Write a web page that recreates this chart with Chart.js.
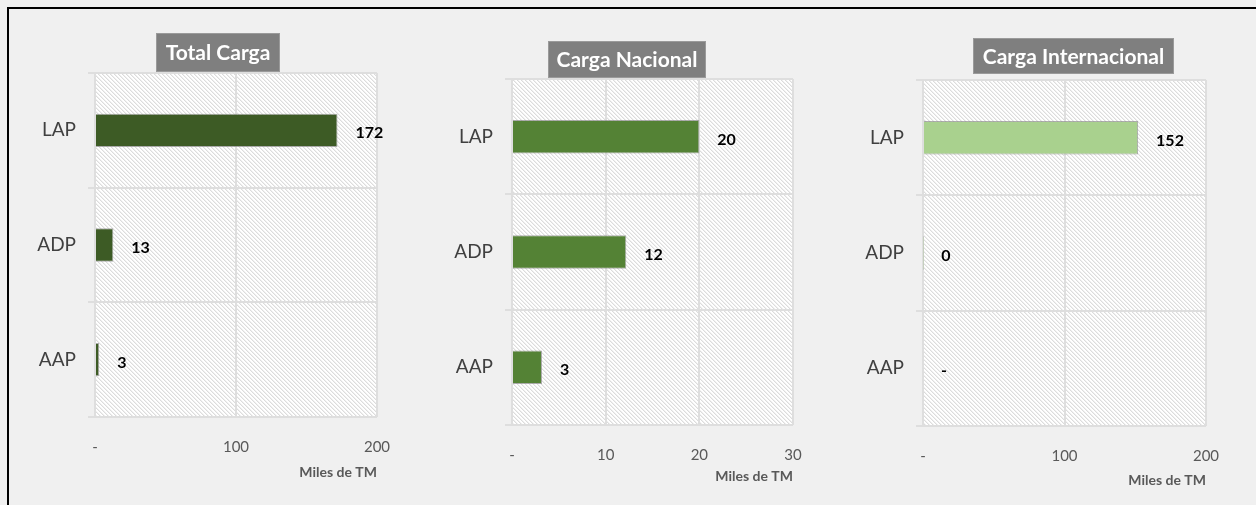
<!DOCTYPE html>
<html>
<head>
<meta charset="utf-8">
<script src="https://cdn.jsdelivr.net/npm/chart.js@4"></script>
<style>
  body { margin: 0; background: #f0f0f0; width: 1256px; height: 505px; overflow: hidden; position: relative; font-family: Lato, sans-serif; }
  .frame { position: absolute; left: 7px; top: 7px; width: 1300px; height: 600px; border-top: 2px solid #000; border-left: 2px solid #000; }
  .box { position: absolute; top: 0; height: 505px; }
</style>
</head>
<body>
<div class="frame"></div>
<div class="box" style="left:0;width:400px"><canvas id="c1"></canvas></div>
<div class="box" style="left:417px;width:399px"><canvas id="c2"></canvas></div>
<div class="box" style="left:828px;width:401px"><canvas id="c3"></canvas></div>
<script>
// datos (miles de TM)
const categories = ['LAP', 'ADP', 'AAP'];
const totalValues = [172, 13, 3];
const nacionalValues = [20, 12.2, 3.2];
const internacionalValues = [152, 0.2, 0];

const chartTitles = ['Total Carga', 'Carga Nacional', 'Carga Internacional'];
const axisTitle = 'Miles de TM';
const axisMax = [200, 30, 200];
const axisStep = [100, 10, 100];
const zeroTick = '-';

Chart.defaults.font.family = 'Lato, sans-serif';
Chart.defaults.animation = false;

// fondo rayado del area de trazado
function hatchPattern(ctx) {
  const n = 4;
  const shades = [220, 240, 255, 255];
  const c = document.createElement('canvas');
  c.width = n; c.height = n;
  const g = c.getContext('2d');
  const img = g.createImageData(n, n);
  for (let y = 0; y < n; y++) {
    for (let x = 0; x < n; x++) {
      const i = (y * n + x) * 4;
      const v = shades[(x - y + n) % n];
      img.data[i] = v; img.data[i + 1] = v; img.data[i + 2] = v; img.data[i + 3] = 255;
    }
  }
  g.putImageData(img, 0, 0);
  return ctx.createPattern(c, 'repeat');
}

const hatchBg = {
  id: 'hatchBg',
  beforeDraw(chart) {
    const { ctx, chartArea: a } = chart;
    ctx.save();
    ctx.fillStyle = hatchPattern(ctx);
    ctx.fillRect(a.left, a.top, a.right - a.left, a.bottom - a.top);
    ctx.restore();
  }
};

const titleBox = {
  id: 'titleBox',
  afterDraw(chart, args, o) {
    const ctx = chart.ctx;
    ctx.save();
    ctx.fillStyle = '#7f7f7f';
    ctx.fillRect(o.x, o.y, o.w, o.h);
    ctx.strokeStyle = '#9a9a9a';
    ctx.lineWidth = 1;
    ctx.strokeRect(o.x + 0.5, o.y + 0.5, o.w - 1, o.h - 1);
    ctx.fillStyle = '#ffffff';
    ctx.font = 'bold 21px Lato, sans-serif';
    ctx.textAlign = 'center';
    ctx.textBaseline = 'middle';
    ctx.fillText(o.text, o.x + o.w / 2, o.y + o.h / 2 + 1);
    ctx.restore();
  }
};

const valueLabels = {
  id: 'valueLabels',
  afterDatasetsDraw(chart) {
    const ctx = chart.ctx;
    const vals = chart.data.datasets[0].data;
    ctx.save();
    ctx.fillStyle = '#000';
    ctx.font = 'bold 16px Lato, sans-serif';
    ctx.textAlign = 'left';
    ctx.textBaseline = 'middle';
    chart.getDatasetMeta(0).data.forEach((bar, i) => {
      const v = vals[i];
      const txt = v === 0 ? '-' : String(Math.round(v));
      ctx.fillText(txt, bar.x + 18, bar.y + 3);
    });
    ctx.restore();
  }
};

function makeChart(id, idx, values, color, lay) {
  return new Chart(document.getElementById(id), {
    type: 'bar',
    data: {
      labels: categories,
      datasets: [{
        data: values,
        backgroundColor: color,
        borderColor: 'rgba(140,140,140,0.7)',
        borderWidth: 1,
        barPercentage: 0.29,
        categoryPercentage: 1
      }]
    },
    plugins: [hatchBg, titleBox, valueLabels],
    options: {
      indexAxis: 'y',
      responsive: true,
      maintainAspectRatio: false,
      layout: { padding: { left: 0, right: lay.padRight, top: lay.padTop, bottom: lay.padBottom } },
      plugins: {
        legend: { display: false },
        tooltip: { enabled: false },
        titleBox: { text: chartTitles[idx], x: lay.tx, y: lay.ty, w: lay.tw, h: lay.th }
      },
      scales: {
        x: {
          min: 0,
          max: axisMax[idx],
          ticks: {
            stepSize: axisStep[idx],
            color: '#595959',
            font: { size: 15 },
            padding: 21,
            callback: v => v === 0 ? zeroTick : v
          },
          grid: { color: '#dedede', lineWidth: 2, drawTicks: false },
          border: { display: false },
          title: {
            display: true,
            text: axisTitle,
            align: 'end',
            color: '#595959',
            font: { size: 14, weight: 'bold' },
            padding: 0
          },
          afterFit: s => { s.height = lay.xh; s.paddingLeft = 0; s.paddingRight = 0; }
        },
        y: {
          ticks: { color: '#404040', font: { size: 19 }, padding: 12 },
          grid: { color: '#dedede', lineWidth: 2, tickLength: 7, offset: true },
          border: { color: '#dedede', width: 2 },
          afterFit: s => { s.width = 95; }
        }
      }
    }
  });
}

makeChart('c1', 0, totalValues, '#3d5b25',
  { padRight: 23, padTop: 73, padBottom: 24, xh: 64, tx: 156, ty: 33, tw: 124, th: 39 });
makeChart('c2', 1, nacionalValues, '#548235',
  { padRight: 23, padTop: 79, padBottom: 20, xh: 60, tx: 131, ty: 41, tw: 158, th: 37 });
makeChart('c3', 2, internacionalValues, '#a9d18e',
  { padRight: 23, padTop: 80, padBottom: 16, xh: 63, tx: 145, ty: 38, tw: 201, th: 36 });
</script>
</body>
</html>
